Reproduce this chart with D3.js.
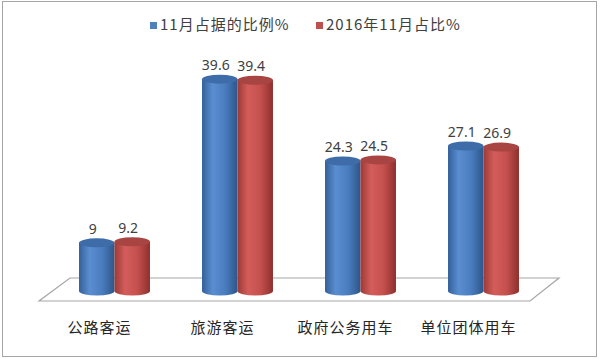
<!DOCTYPE html>
<html>
<head>
<meta charset="utf-8">
<script src="https://cdn.jsdelivr.net/npm/d3@7"></script>
<style>
  body { margin: 0; background: #fff; }
  text { font-family: "Noto Sans CJK SC", "Noto Sans", sans-serif; }
</style>
</head>
<body>
<div id="chart"></div>
<script>
var width = 600, height = 359;

// data
var categories = ["公路客运", "旅游客运", "政府公务用车", "单位团体用车"];
var seriesNames = ["11月占据的比例%", "2016年11月占比%"];
var nov = [9, 39.6, 24.3, 27.1];
var nov2016 = [9.2, 39.4, 24.5, 26.9];
var seriesValues = [nov, nov2016];
var colors = ["#4f81bd", "#c0504d"];

var svg = d3.select("#chart")
            .append("svg")
            .attr("width", width)
            .attr("height", height);

// gradients for cylinders
var defs = svg.append("defs");
var stops = [
  [["0%", "#34609a"], ["30%", "#5a8ed0"], ["65%", "#4a7dbf"], ["100%", "#2d5689"]],
  [["0%", "#9c3a37"], ["30%", "#d45d5a"], ["65%", "#c4504d"], ["100%", "#8e302e"]]
];
stops.forEach(function(s, i) {
  var g = defs.append("linearGradient").attr("id", "grad" + i)
              .attr("x1", "0%").attr("x2", "100%").attr("y1", "0%").attr("y2", "0%");
  s.forEach(function(st) {
    g.append("stop").attr("offset", st[0]).attr("stop-color", st[1]);
  });
});
var topColors = ["#3d6ca9", "#a84441"];

// border
svg.append("rect")
   .attr("x", 2.5).attr("y", 1.5)
   .attr("width", 594).attr("height", 355)
   .attr("fill", "#fff")
   .attr("stroke", "#a6a6a6");

var x = d3.scaleBand()
          .domain(categories)
          .range([53, 545])
          .paddingInner(0.423)
          .paddingOuter(0.2115);

var xs = d3.scaleBand()
           .domain(d3.range(seriesNames.length))
           .range([0, x.bandwidth()]);

var y = d3.scaleLinear()
          .domain([0, 40])
          .range([291, 77]);

// floor
var floor = [[70, 278], [559, 278], [530, 301], [39, 301]];
svg.append("path")
   .attr("d", "M" + floor.join("L") + "Z")
   .attr("fill", "#fff")
   .attr("stroke", "#a6a6a6")
   .attr("stroke-width", 1.2);

var ry = 4.5;
var bars = [];
seriesValues.forEach(function(vals, si) {
  vals.forEach(function(v, ci) {
    bars.push({ s: si, c: categories[ci], v: v });
  });
});
// blue first so red sits in front
bars.sort(function(a, b) { return a.s - b.s; });

var g = svg.append("g");
bars.forEach(function(d) {
  var x0 = x(d.c) + xs(d.s);
  var w = xs.bandwidth();
  var rx = w / 2;
  var yt = y(d.v), yb = y(0);
  g.append("path")
   .attr("d", "M" + x0 + "," + yt + "L" + x0 + "," + yb +
              "A" + rx + "," + ry + " 0 0 0 " + (x0 + w) + "," + yb +
              "L" + (x0 + w) + "," + yt + "Z")
   .attr("fill", "url(#grad" + d.s + ")");
  g.append("ellipse")
   .attr("cx", x0 + rx).attr("cy", yt)
   .attr("rx", rx).attr("ry", ry)
   .attr("fill", topColors[d.s]);
  g.append("text")
   .attr("x", x0 + rx - 4)
   .attr("y", yt - 9)
   .attr("text-anchor", "middle")
   .attr("fill", "#404040")
   .style("font-family", "'Noto Sans', sans-serif")
   .style("font-size", "14px")
   .text(d.v);
});

// category labels
svg.selectAll(".cat")
   .data(categories)
   .enter()
   .append("text")
   .attr("class", "cat")
   .attr("x", function(d) { return x(d) + x.bandwidth() / 2 - 15; })
   .attr("y", 333)
   .attr("text-anchor", "middle")
   .attr("fill", "#262626")
   .style("font-size", "15px")
   .style("letter-spacing", "1px")
   .text(function(d) { return d; });

// legend
var legendX = [150, 316];
var legend = svg.selectAll(".legend")
                .data(seriesNames)
                .enter()
                .append("g")
                .attr("class", "legend")
                .attr("transform", function(d, i) { return "translate(" + legendX[i] + ",22)"; });
legend.append("rect")
      .attr("width", 7).attr("height", 7)
      .attr("fill", function(d, i) { return colors[i]; });
legend.append("text")
      .attr("x", 10).attr("y", 8)
      .attr("fill", "#404040")
      .style("font-size", "15px")
      .style("letter-spacing", "1px")
      .text(function(d) { return d; });
</script>
</body>
</html>
